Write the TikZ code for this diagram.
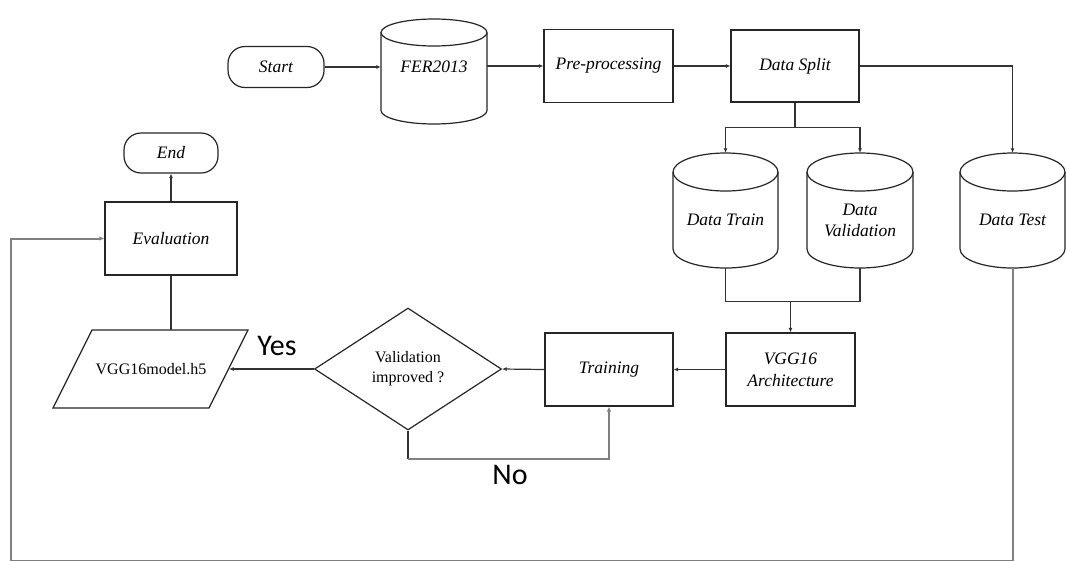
\documentclass[tikz,border=0pt]{standalone}
\usepackage{fontspec}
\setmainfont{Liberation Serif}
\newfontfamily\carlito{Carlito}
\usetikzlibrary{arrows.meta,shapes.geometric,calc}
\newcommand\dbcyl[6]{%
 \draw[boxline,fill=white] (#2-#5,-#3-#6) -- (#2-#5,-#4+#6)
   arc[start angle=180,end angle=360,x radius=#5pt,y radius=#6pt]
   -- (#2+#5,-#3-#6)
   arc[start angle=0,end angle=180,x radius=#5pt,y radius=#6pt] -- cycle;
 \draw[boxline] (#2-#5,-#3-#6) arc[start angle=180,end angle=360,x radius=#5pt,y radius=#6pt];
 \node[rectangle,draw=none,inner sep=0,minimum width={2*#5pt},minimum height={(#4-#3)*1pt}] (#1) at (#2,{-(#3+#4)/2}) {};
}
\begin{document}
\begin{tikzpicture}[x=1pt,y=1pt,
 boxline/.style={draw=black!85,line width=1.2pt},
 proc/.style={rectangle,boxline,fill=white,inner sep=2pt,align=center,font=\fontsize{17.5}{22}\selectfont\itshape},
 term/.style={rectangle,rounded corners=17pt,boxline,fill=white,inner sep=2pt,font=\fontsize{17.5}{22}\selectfont\itshape},
 lbl/.style={inner sep=0,align=center,font=\fontsize{17.5}{21}\selectfont\itshape},
 small/.style={inner sep=0,align=center,font=\fontsize{16}{20}\selectfont},
 big/.style={inner sep=0,font=\carlito\fontsize{30}{32}\selectfont},
 conn/.style={draw=black!80,line width=1.2pt},
 arr/.style={conn,-{Latex[length=4.5pt,width=4pt]}},
 grayconn/.style={draw=black!50,line width=2pt},
 grayarr/.style={grayconn,-{Latex[length=5pt,width=4.5pt]}}
]
\useasboundingbox (0,0) rectangle (1067,-560);

% terminals and process boxes
\node[term,minimum width=96pt,minimum height=41pt] (start) at (276,-67) {Start};
\node[term,minimum width=94pt,minimum height=40pt] (end) at (171,-153) {End};
\node[proc,minimum width=129pt,minimum height=73pt] (pre) at (608.5,-66) {Pre-processing};
\node[proc,minimum width=128pt,minimum height=72pt] (split) at (795,-66) {Data Split};
\node[proc,minimum width=129pt,minimum height=73pt] (vgg) at (790.5,-369.5) {VGG16\\Architecture};
\node[proc,minimum width=128pt,minimum height=73pt] (training) at (609,-369.5) {Training};
\node[proc,minimum width=132pt,minimum height=73pt] (eval) at (171,-238.5) {Evaluation};
\node[diamond,boxline,fill=white,aspect=1.5,minimum width=187pt,minimum height=122pt,inner sep=0,small] (dia) at (408,-369) {Validation\\improved ?};

% cylinders
\dbcyl{fer}{434}{19}{124}{53}{13.5}
\node[lbl] (fertxt) at (434,-67) {FER2013};
\dbcyl{train}{725.5}{153}{268}{52.5}{19}
\node[lbl] (traintxt) at (725.5,-220) {Data Train};
\dbcyl{valid}{860}{153}{268}{53}{19}
\node[lbl] (validtxt) at (860,-220) {Data\\Validation};
\dbcyl{test}{1012.5}{153}{268}{52.5}{19}
\node[lbl] (testtxt) at (1012.5,-220) {Data Test};

% parallelogram
\draw[boxline,fill=white] (92,-330) -- (248,-330) -- (209,-408) -- (53,-408) -- cycle;
\node[small] (model) at (151,-369) {VGG16model.h5};
\coordinate (modelR) at (229,-369);
\coordinate (modelT) at (171,-330);

% labels
\node[big] (yes) at (277,-346) {Yes};
\node[big] (no) at (510,-475) {No};

% connectors
\draw[arr] (start.east) -- (start.east -| fer.west);
\draw[arr] (fer.east |- pre.west) -- (pre.west);
\draw[arr] (pre.east) -- (split.west);
\draw[conn] (split.south) -- ++(0,-25) coordinate (sj);
\draw[arr] (sj) -| (train.north);
\draw[arr] (sj) -| (valid.north);
\draw[arr] (split.east) -| (test.north);
\draw[conn] (train.south) -- ++(0,-33) -| (valid.south);
\coordinate (jn) at (0,-301);
\draw[arr] (vgg.north |- jn) -- (vgg.north);
\draw[arr] (vgg.west) -- (training.east);
\draw[arr] (training.west) -- (dia.east);
\draw[arr] (dia.west) -- (modelR);
\draw[conn] (dia.south) -- ++(0,-28) coordinate (nj);
\draw[grayarr] (nj) -| (training.south);
\draw[conn] (modelT) -- (eval.south);
\draw[arr] (eval.north) -- (end.south);
\coordinate (lc) at (11,-561.2);
\draw[grayarr] (test.south) -- (test.south |- lc) -- (lc) |- (eval.west);
\end{tikzpicture}
\end{document}
